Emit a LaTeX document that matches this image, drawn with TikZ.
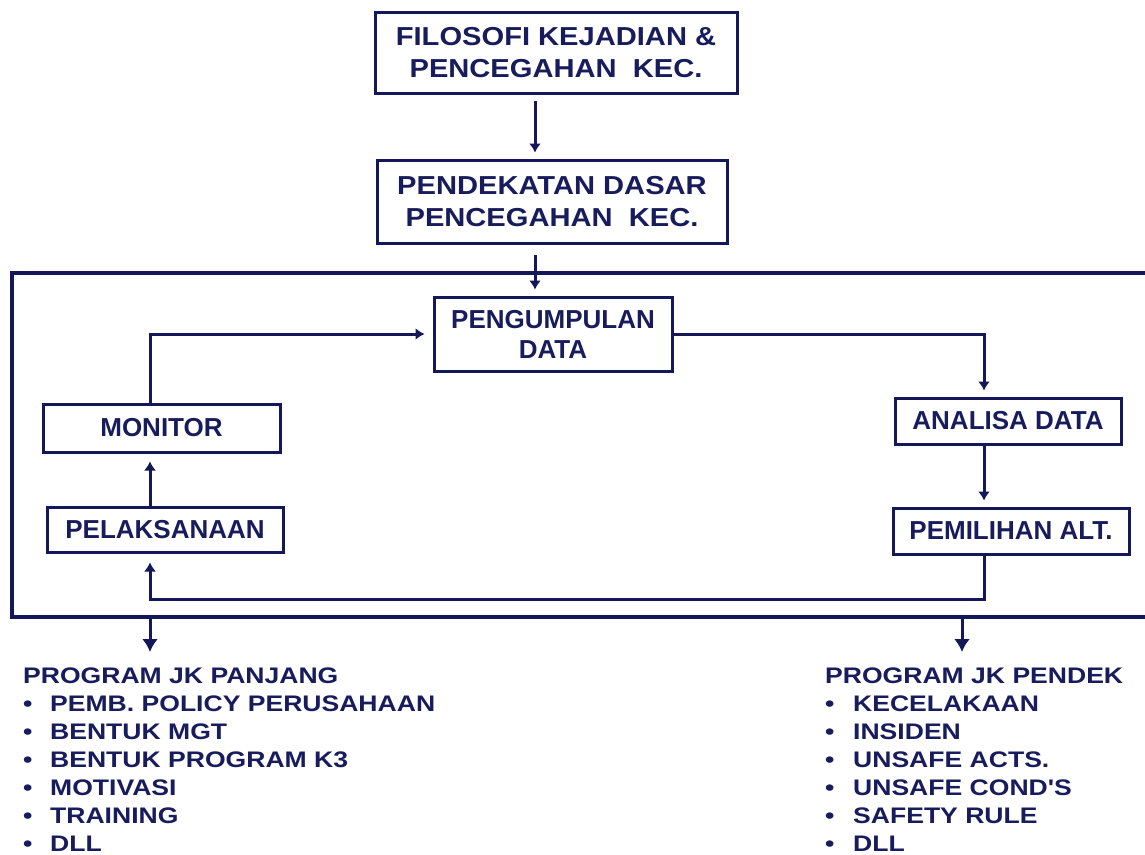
\documentclass[tikz,border=0pt]{standalone}
\usepackage{fontspec}
\setmainfont{Liberation Sans}
\newfontfamily\topfont[FakeStretch=1.12]{Liberation Sans}
\newfontfamily\listfont[FakeStretch=1.18]{Liberation Sans}
\usetikzlibrary{arrows.meta}
\definecolor{navy}{RGB}{20,24,88}
\definecolor{txt}{RGB}{24,28,92}
\begin{document}
\begin{tikzpicture}[x=1pt,y=-1pt,
  box/.style={draw=navy,line width=3pt,inner sep=0pt,text=txt,
    font=\fontsize{26}{30}\selectfont\bfseries,align=center},
  topbox/.style={box,font=\topfont\fontsize{26}{32.5}\selectfont\bfseries},
  conn/.style={draw=navy,line width=3pt,-{Latex[length=9pt,width=12pt]}},
  bigconn/.style={draw=navy,line width=3pt,-{Latex[length=13pt,width=16pt]}},
  lst/.style={anchor=base west,inner sep=0pt,text=txt,
    font=\listfont\fontsize{22.5}{28}\selectfont\bfseries},
]
\fill[white] (0,0) rectangle (1145,854);
\useasboundingbox (0,0) rectangle (1145,854);

% frame
\node[draw=navy,line width=3.5pt,inner sep=0pt,minimum width=1160pt,minimum height=344pt] (frame) at (592,445) {};

% boxes
\node[topbox,minimum width=362pt,minimum height=81pt] (b1) at (556,52.5) {FILOSOFI KEJADIAN \&\\PENCEGAHAN~~KEC.};
\node[topbox,minimum width=350pt,minimum height=83pt] (b2) at (552,201.5) {PENDEKATAN DASAR\\PENCEGAHAN~~KEC.};
\node[box,minimum width=238pt,minimum height=74pt] (peng) at (553,334) {PENGUMPULAN\\DATA};
\node[box,minimum width=237pt,minimum height=48pt] (mon) at (161.5,428) {MONITOR};
\node[box,minimum width=236pt,minimum height=45pt] (pel) at (165,529.5) {PELAKSANAAN};
\node[box,minimum width=226pt,minimum height=46pt] (ana) at (1008,421) {ANALISA DATA};
\node[box,minimum width=236pt,minimum height=46pt] (pem) at (1011,531) {PEMILIHAN ALT.};

% helper coordinates
\coordinate (cM) at (535,0);
\coordinate (cL) at (150,0);
\coordinate (cR) at (984,0);
\coordinate (bot) at (150,599);
\coordinate (aL) at (150,652);
\coordinate (aR) at (962,652);

% connectors
\draw[conn,shorten <=6pt,shorten >=6pt] (b1.south -| cM) -- (b2.north -| cM);
\draw[conn,shorten <=10pt,shorten >=6pt] (b2.south -| cM) -- (peng.north -| cM);
\draw[conn,shorten >=8pt] (mon.north -| cL) |- (peng.west);
\draw[conn,shorten >=6pt] (peng.east) -| (ana.north -| cR);
\draw[conn,shorten >=6pt] (ana.south -| cR) -- (pem.north -| cR);
\draw[conn,shorten >=9pt] (pem.south -| cR) |- (bot) -- (pel.south -| bot);
\draw[conn,shorten >=8pt] (pel.north -| cL) -- (mon.south -| cL);
\draw[bigconn] (frame.south -| aL) -- (aL);
\draw[bigconn] (frame.south -| aR) -- (aR);

% lists
\node[lst] (hL) at (23,683) {PROGRAM JK PANJANG};
\foreach \t [count=\i] in {PEMB. POLICY PERUSAHAAN,BENTUK MGT,BENTUK PROGRAM K3,MOTIVASI,TRAINING,DLL}
  \node[lst] (L\i) at (23,683+28*\i) {\makebox[27pt][l]{•}\t};
\node[lst] (hR) at (825,683) {PROGRAM JK PENDEK};
\foreach \t [count=\i] in {KECELAKAAN,INSIDEN,UNSAFE ACTS.,UNSAFE COND'S,SAFETY RULE,DLL}
  \node[lst] (R\i) at (825,683+28*\i) {\makebox[28pt][l]{•}\t};
\end{tikzpicture}
\end{document}
